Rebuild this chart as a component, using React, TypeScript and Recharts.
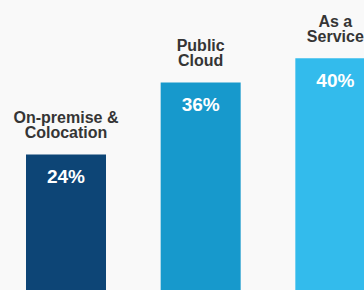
import React from 'react';
import { BarChart, Bar, XAxis, YAxis, Cell, LabelList } from 'recharts';

const categories = ['On-premise & Colocation', 'Public Cloud', 'As a Service'];
const categoryLines = [['On-premise &', 'Colocation'], ['Public', 'Cloud'], ['As a', 'Service']];
const values = [24, 36, 40];
const valueLabels = ['24%', '36%', '40%'];
const colors = ['#0d4576', '#1799cc', '#33bbec'];

const data = categories.map((c, i) => ({ name: c, value: values[i], idx: i }));

const FONT = '"Liberation Sans", Arial, Helvetica, sans-serif';

const TopLabel = (props: any) => {
  const { x, y, width, index } = props;
  const cx = x + width / 2;
  const lines = categoryLines[index];
  const lastBase = y - 16.3;
  return (
    <g>
      {lines.map((l, i) => (
        <text
          key={i}
          x={cx}
          y={lastBase - (lines.length - 1 - i) * 15.4}
          textAnchor="middle"
          fill="#353535"
          fontFamily={FONT}
          fontWeight="bold"
          fontSize={16}
        >
          {l}
        </text>
      ))}
      <text
        x={cx}
        y={y + 28.5}
        textAnchor="middle"
        fill="#ffffff"
        fontFamily={FONT}
        fontWeight="bold"
        fontSize={19}
      >
        {valueLabels[index]}
      </text>
    </g>
  );
};

export default function App() {
  return (
    <div
      style={{
        position: 'fixed',
        top: 0,
        left: 0,
        width: 364,
        height: 290,
        overflow: 'hidden',
        background: '#f9f9f9',
      }}
    >
      <div style={{ position: 'absolute', top: 0, left: -1.3 }}>
        <BarChart
          width={404}
          height={299}
          data={data}
          margin={{ top: 0, right: 0, bottom: 0, left: 0 }}
        >
          <XAxis dataKey="name" hide />
          <YAxis hide domain={[0, 49.7]} />
          <Bar dataKey="value" barSize={80} isAnimationActive={false}>
            {data.map((d, i) => (
              <Cell key={i} fill={colors[i]} />
            ))}
            <LabelList dataKey="value" content={TopLabel} />
          </Bar>
        </BarChart>
      </div>
    </div>
  );
}
